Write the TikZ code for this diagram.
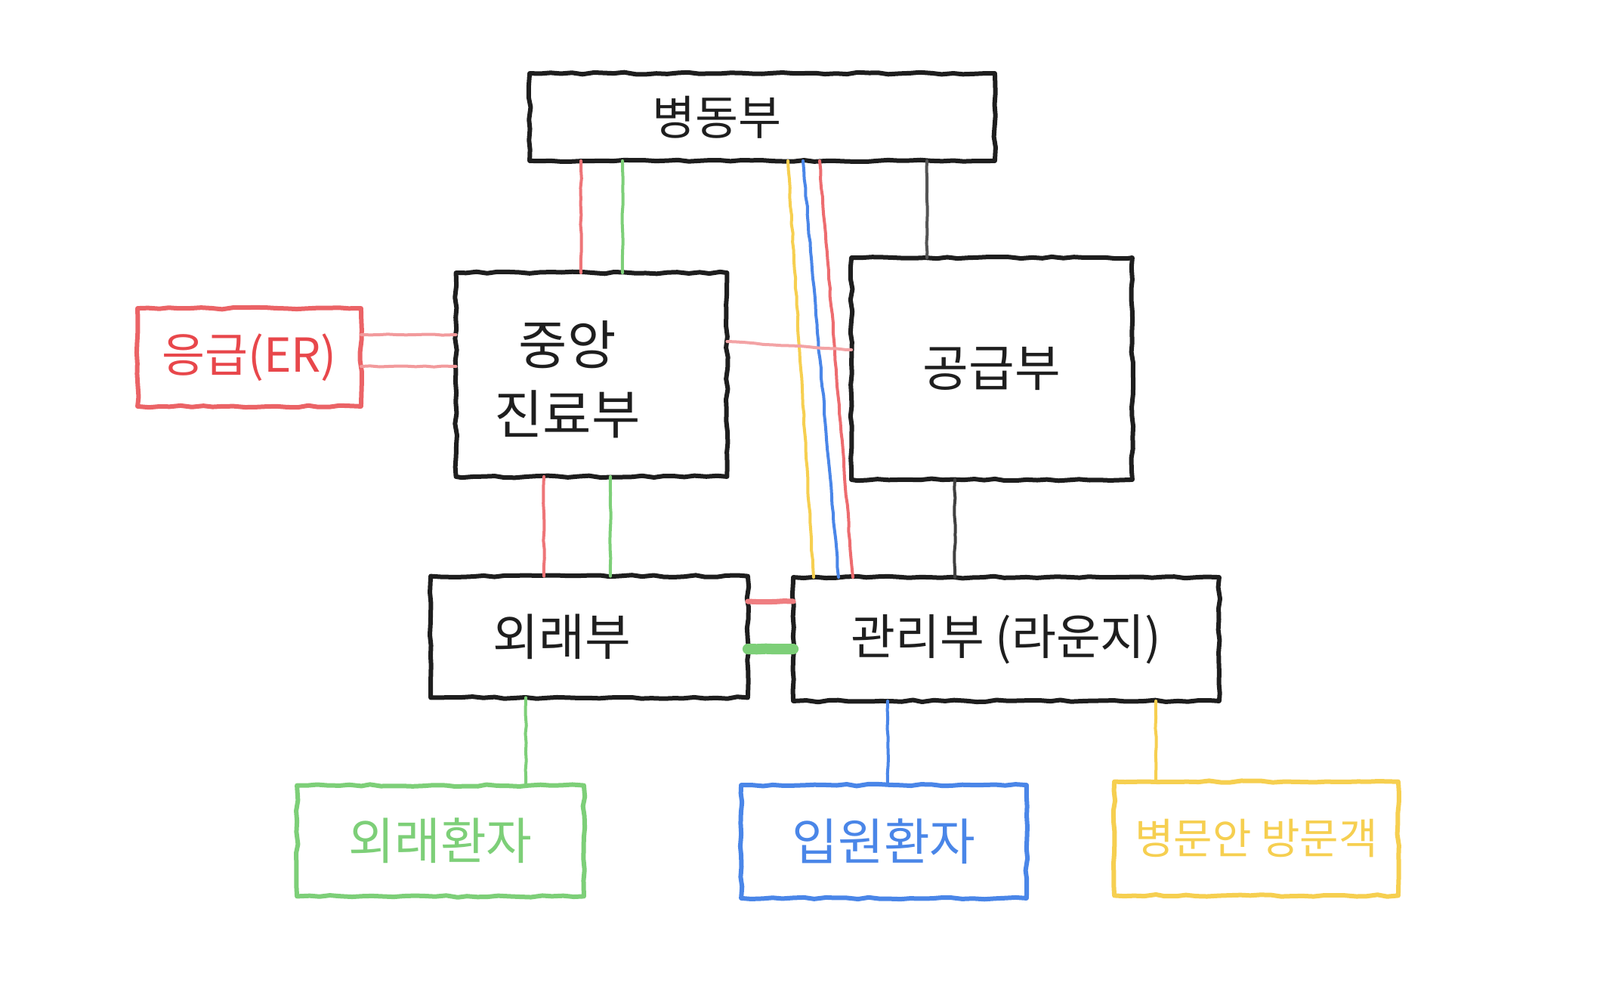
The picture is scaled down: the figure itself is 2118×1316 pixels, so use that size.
\documentclass[tikz,border=0pt]{standalone}
\usepackage{fontspec}
\newfontfamily\kr{Noto Sans CJK KR}
\usetikzlibrary{decorations.pathmorphing}
\definecolor{cred}{HTML}{E8474B}
\definecolor{cgreen}{HTML}{7DCF78}
\definecolor{cblue}{HTML}{4A86E8}
\definecolor{cyellow}{HTML}{F6CF50}
\definecolor{cblack}{HTML}{1E1E1E}
\definecolor{cgray}{HTML}{555555}
\begin{document}
\begin{tikzpicture}[x=0.5pt,y=-0.5pt,
  box/.style={text=#1,inner sep=0pt,
    font=\kr\fontsize{33pt}{40pt}\selectfont,align=center},
  box/.default=cblack,
  border/.style={draw=#1,line width=3pt,line join=round,decorate,decoration={random steps,segment length=7pt,amplitude=0.7pt}},
  conn/.style={draw=#1,line width=2pt,decorate,decoration={random steps,segment length=6pt,amplitude=0.4pt},line cap=round}
]
\useasboundingbox (0,0) rectangle (2118,1316);
\fill[white] (0,0) rectangle (2118,1316);

% boxes
\node[box,minimum width=307.5pt,minimum height=57.5pt,
  label={[xshift=-30pt,text=cblack,font=\kr\fontsize{31pt}{38pt}\selectfont]center:병동부}] (bd) at (1009,155) {};
\node[box,minimum width=179pt,minimum height=134.5pt,
  label={[xshift=-16pt,yshift=-3pt,text=cblack,align=center,font=\kr\fontsize{35pt}{46pt}\selectfont]center:중앙\\진료부}] (jy) at (783,496) {};
\node[box,minimum width=185.5pt,minimum height=146.5pt] (gg) at (1313,488) {공급부};
\node[box=cred,minimum width=147.5pt,minimum height=64.5pt,font=\kr\fontsize{31pt}{38pt}\selectfont] (er) at (330,473) {응급(ER)};
\node[box,minimum width=209.5pt,minimum height=80pt,
  label={[xshift=-18pt,text=cblack,font=\kr\fontsize{33pt}{40pt}\selectfont]center:외래부}] (wr) at (780,843) {};
\node[box,minimum width=281.5pt,minimum height=81.5pt,font=\kr\fontsize{32pt}{40pt}\selectfont] (gr) at (1332,846) {관리부 (라운지)};
\node[box=cgreen,minimum width=189.5pt,minimum height=73pt] (wp) at (583,1113) {외래환자};
\node[box=cblue,minimum width=188.5pt,minimum height=74.5pt] (ip) at (1170,1114) {입원환자};
\node[box=cyellow,minimum width=187.5pt,minimum height=75pt,
  font=\kr\fontsize{28pt}{34pt}\selectfont] (bm) at (1663,1110) {병문안 방문객};

% box outlines
\foreach \n/\c in {bd/cblack,jy/cblack,gg/cblack,wr/cblack,gr/cblack,er/cred!85,wp/cgreen,ip/cblue,bm/cyellow}
  \draw[border=\c] (\n.north west) -- (\n.north east) -- (\n.south east) -- (\n.south west) -- cycle;

% guide coordinates
\coordinate (r1) at (769,0);  \coordinate (g1) at (824,0);
\coordinate (yt) at (1043,0); \coordinate (yb) at (1077,0);
\coordinate (bt) at (1063,0); \coordinate (bb) at (1110,0);
\coordinate (rt) at (1085,0); \coordinate (rb) at (1129,0);
\coordinate (k1) at (1227,0);
\coordinate (h1) at (0,443);  \coordinate (h2) at (0,485);
\coordinate (h3) at (0,452);  \coordinate (h3b) at (0,463);
\coordinate (r2) at (720,0);  \coordinate (g2) at (808,0);
\coordinate (k2) at (1264,0);
\coordinate (h4) at (0,796);  \coordinate (h5) at (0,859);
\coordinate (g3) at (696,0);  \coordinate (b3) at (1175,0); \coordinate (y3) at (1530,0);

% connectors
\draw[conn=cred!75] (bd.south -| r1) -- (jy.north -| r1);
\draw[conn=cgreen] (bd.south -| g1) -- (jy.north -| g1);
\draw[conn=cyellow] (bd.south -| yt) -- (gr.north -| yb);
\draw[conn=cblue] (bd.south -| bt) -- (gr.north -| bb);
\draw[conn=cred!80] (bd.south -| rt) -- (gr.north -| rb);
\draw[conn=cgray] (bd.south -| k1) -- (gg.north -| k1);
\draw[conn=cred!55] (er.east |- h1) -- (jy.west |- h1);
\draw[conn=cred!55] (er.east |- h2) -- (jy.west |- h2);
\draw[conn=cred!50] (jy.east |- h3) -- (gg.west |- h3b);
\draw[conn=cred!75] (jy.south -| r2) -- (wr.north -| r2);
\draw[conn=cgreen] (jy.south -| g2) -- (wr.north -| g2);
\draw[conn=cblack!85] (gg.south -| k2) -- (gr.north -| k2);
\draw[conn=cred!70,line width=3.5pt] (wr.east |- h4) -- (gr.west |- h4);
\draw[conn=cgreen,line width=7pt] (wr.east |- h5) -- (gr.west |- h5);
\draw[conn=cgreen] (wr.south -| g3) -- (wp.north -| g3);
\draw[conn=cblue] (gr.south -| b3) -- (ip.north -| b3);
\draw[conn=cyellow] (gr.south -| y3) -- (bm.north -| y3);
\end{tikzpicture}
\end{document}
